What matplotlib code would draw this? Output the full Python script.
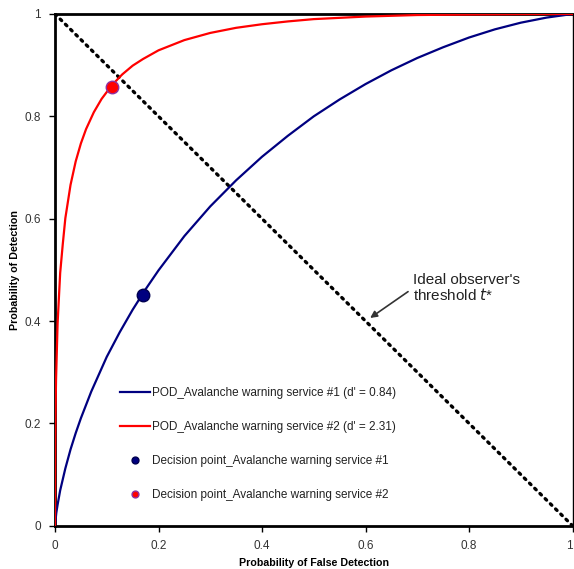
import matplotlib
matplotlib.use("Agg")
import matplotlib.pyplot as plt

plt.rcParams['font.family'] = ['Liberation Sans', 'DejaVu Sans']

# Service #1 ROC curve (d' = 0.84)
fa1 = [0.0, 0.0025, 0.005, 0.01, 0.02, 0.03, 0.04, 0.05, 0.07, 0.1, 0.125, 0.15, 0.175, 0.2, 0.25,
       0.3, 0.35, 0.4, 0.45, 0.5, 0.55, 0.6, 0.65, 0.7, 0.75, 0.8, 0.85, 0.9, 0.95, 1.0]
pod1 = [0.0, 0.025, 0.041, 0.069, 0.112, 0.149, 0.181, 0.210, 0.262, 0.330, 0.378, 0.422, 0.462, 0.499, 0.566,
        0.624, 0.675, 0.721, 0.762, 0.800, 0.833, 0.863, 0.890, 0.914, 0.935, 0.954, 0.970, 0.983, 0.993, 1.0]

# Service #2 ROC curve (d' = 2.31)
fa2 = [0.0, 0.0005, 0.001, 0.002, 0.005, 0.01, 0.015, 0.02, 0.03, 0.04, 0.05, 0.06, 0.075, 0.09, 0.11,
       0.13, 0.15, 0.17, 0.2, 0.25, 0.3, 0.35, 0.4, 0.45, 0.5, 0.6, 0.7, 0.8, 0.9, 1.0]
pod2 = [0.0, 0.164, 0.218, 0.285, 0.395, 0.494, 0.550, 0.601, 0.666, 0.712, 0.747, 0.775, 0.808, 0.834, 0.861,
        0.882, 0.899, 0.912, 0.929, 0.949, 0.963, 0.973, 0.980, 0.9855, 0.990, 0.995, 0.998, 0.999, 0.9998, 1.0]

# Decision points
dec1 = (0.17, 0.45)
dec2 = (0.11, 0.858)

# Ideal observer's threshold line
thr_x = [0.0, 1.0]
thr_y = [1.0, 0.0]

ticks = [0, 0.2, 0.4, 0.6, 0.8, 1]
tick_labels = ['0', '0.2', '0.4', '0.6', '0.8', '1']

fig = plt.figure(figsize=(5.74, 5.69), dpi=100)
ax = fig.add_axes([55/574, 1-525.7/569, (572.5-55)/574, (525.7-14)/569])

ax.plot(thr_x, thr_y, color='black', linestyle=(0, (0.6, 1.6)), linewidth=2.4,
        dash_capstyle='round', zorder=2)
l1, = ax.plot(fa1, pod1, color='#000080', linewidth=1.6, zorder=3,
              label="POD_Avalanche warning service #1 (d' = 0.84)")
l2, = ax.plot(fa2, pod2, color='#FF0000', linewidth=1.6, zorder=3,
              label="POD_Avalanche warning service #2 (d' = 2.31)")
m1, = ax.plot([dec1[0]], [dec1[1]], 'o', color='#000080', markeredgecolor='#000050',
              markersize=9, zorder=4, label='Decision point_Avalanche warning service #1')
m2, = ax.plot([dec2[0]], [dec2[1]], 'o', color='#FF0000', markeredgecolor='#9030A0',
              markersize=9, zorder=4, label='Decision point_Avalanche warning service #2')

ax.set_xlim(0, 1)
ax.set_ylim(0, 1)
ax.set_xticks(ticks)
ax.set_xticklabels(tick_labels)
ax.set_yticks(ticks)
ax.set_yticklabels(tick_labels)
ax.tick_params(direction='out', length=4, width=1, labelsize=8.5, colors='black',
               labelcolor='#333333', pad=6)
ax.get_xticklabels()[-1].set_ha('right')
for s in ['left', 'bottom', 'top']:
    ax.spines[s].set_linewidth(2)
ax.spines['right'].set_linewidth(1)

ax.set_xlabel('Probability of False Detection', fontsize=7.7, fontweight='bold')
ax.set_ylabel('Probability of Detection', fontsize=7.7, fontweight='bold')
ax.xaxis.set_label_coords(0.5, -0.064)
ax.yaxis.set_label_coords(-0.068, 0.5)

ax.annotate("Ideal observer's\nthreshold $\\it{t}$*", xy=(0.609, 0.406), xytext=(0.692, 0.435),
            fontsize=11, color='#222222', ha='left', va='bottom', linespacing=1.0,
            arrowprops=dict(arrowstyle='-|>', color='#333333', lw=1.2, mutation_scale=10,
                            shrinkA=2, shrinkB=0, relpos=(0, 0.5)))

leg = ax.legend(handles=[l1, l2, m1, m2], loc='lower left', bbox_to_anchor=(0.106, 0.028),
                frameon=False, fontsize=8.5, labelspacing=1.86, handlelength=2.5,
                handletextpad=0.2, markerscale=0.55)
for t in leg.get_texts():
    t.set_color('#222222')

fig.savefig('out.png', dpi=100)
